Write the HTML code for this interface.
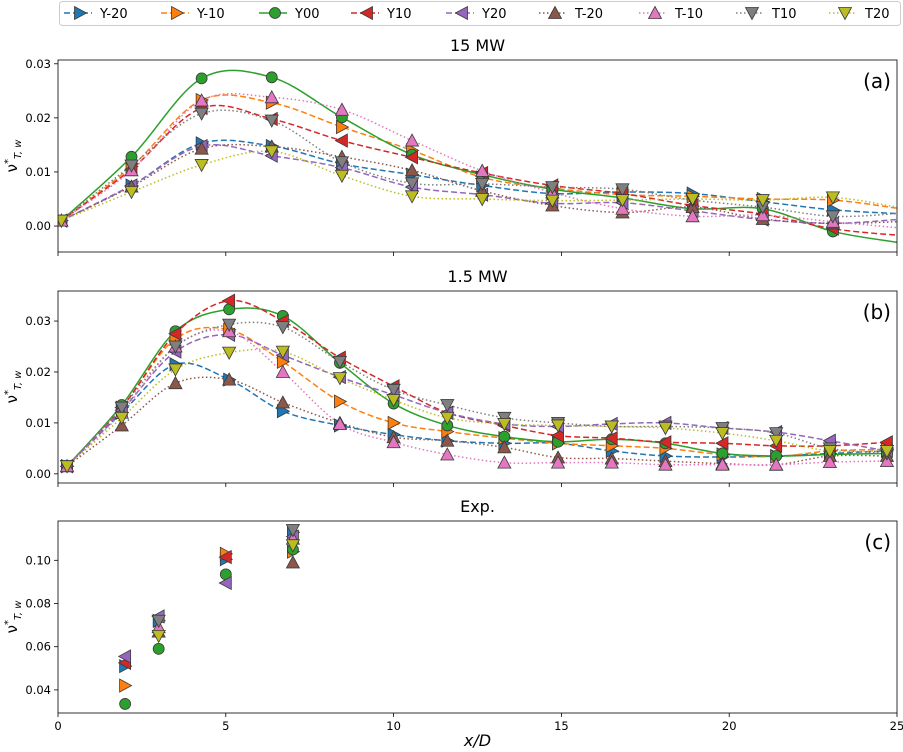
<!DOCTYPE html>
<html><head><meta charset="utf-8"><style>
body{margin:0;background:#fff;}
svg{display:block;font-family:"DejaVu Sans","Liberation Sans",sans-serif;}
</style></head><body>
<svg id="chart" width="903" height="752" viewBox="0 0 903 752"></svg>
<script>
const seriesNames=["Y-20","Y-10","Y00","Y10","Y20","T-20","T-10","T10","T20"];
const colors=["#1f77b4","#ff7f0e","#2ca02c","#d62728","#9467bd","#8c564b","#e377c2","#7f7f7f","#bcbd22"];
const markers=["right","right","circle","left","left","up","up","down","down"];
const dashes=["6,3","6,3","","6,3","6,3","1.5,2.5","1.5,2.5","1.5,2.5","1.5,2.5"];
const xA=[0.1,2.19,4.28,6.37,8.46,10.55,12.64,14.73,16.82,18.91,21.0,23.09];
const endA=[0.0023,0.0033,-0.003,-0.0017,0.0012,0.0008,-0.0003,0.0023,0.0035];
const valsA=[
[0.001,0.0075,0.0153,0.0148,0.0115,0.0095,0.0075,0.006,0.0063,0.006,0.0045,0.003],
[0.001,0.011,0.0233,0.0228,0.0183,0.014,0.009,0.007,0.0058,0.0055,0.005,0.0048],
[0.001,0.0128,0.0273,0.0275,0.0201,0.0132,0.0095,0.0068,0.0052,0.0032,0.0032,-0.001],
[0.001,0.0105,0.0218,0.0198,0.0158,0.0127,0.0098,0.0075,0.006,0.0038,0.0022,-0.0005],
[0.001,0.0075,0.0148,0.013,0.0108,0.0072,0.0058,0.0042,0.0043,0.0028,0.0012,0.0005],
[0.001,0.0073,0.0143,0.0147,0.0128,0.0103,0.0065,0.0038,0.0025,0.0035,0.0013,0.0005],
[0.001,0.0103,0.0232,0.0238,0.0215,0.0158,0.0102,0.0062,0.0032,0.0018,0.002,0.0008],
[0.001,0.0112,0.0208,0.0195,0.0118,0.0079,0.0078,0.0072,0.0068,0.0048,0.0035,0.0018],
[0.001,0.0063,0.0113,0.0138,0.0093,0.0055,0.005,0.0047,0.0048,0.005,0.0048,0.0053]];
const xB=[0.27,1.9,3.5,5.1,6.7,8.4,10.0,11.6,13.3,14.9,16.5,18.1,19.8,21.4,23.0,24.7];
const valsB=[
[0.0015,0.012,0.0215,0.0185,0.0123,0.0095,0.0077,0.0065,0.006,0.006,0.0045,0.0035,0.0033,0.0035,0.004,0.0045],
[0.0015,0.013,0.0265,0.0283,0.022,0.0142,0.01,0.0083,0.007,0.006,0.0055,0.005,0.0038,0.0034,0.0045,0.0048],
[0.0015,0.0135,0.028,0.0323,0.031,0.0218,0.0138,0.0095,0.0073,0.0063,0.0068,0.006,0.004,0.0035,0.0038,0.004],
[0.0015,0.013,0.0275,0.034,0.030,0.0228,0.0172,0.012,0.0095,0.0075,0.007,0.0062,0.006,0.0055,0.0055,0.0062],
[0.0015,0.0125,0.024,0.0273,0.0233,0.019,0.0155,0.012,0.0098,0.0093,0.0098,0.01,0.009,0.0082,0.0065,0.0045],
[0.0015,0.0095,0.0178,0.0185,0.014,0.01,0.0072,0.0065,0.0052,0.0032,0.003,0.0025,0.002,0.0018,0.0035,0.0035],
[0.0015,0.012,0.025,0.028,0.02,0.0098,0.0062,0.0038,0.0022,0.0022,0.0022,0.0018,0.0018,0.0018,0.0023,0.0025],
[0.0015,0.013,0.025,0.0293,0.0288,0.022,0.0165,0.0135,0.011,0.01,0.0093,0.0093,0.009,0.008,0.005,0.004],
[0.0015,0.011,0.0205,0.0238,0.024,0.0188,0.0145,0.011,0.0098,0.0095,0.0093,0.009,0.008,0.0065,0.0045,0.0045]];
const xC=[2,3,5,7];
const valsC=[
[0.051,0.072,0.1005,0.113],
[0.042,null,0.103,0.104],
[0.0335,0.059,0.0935,0.105],
[0.0525,null,0.1015,null],
[0.0555,0.074,0.0895,0.111],
[null,0.067,null,0.099],
[null,0.069,null,0.11],
[null,0.072,null,0.114],
[null,0.065,null,0.107]];
const ticksA=[0,0.01,0.02,0.03], ticksB=[0,0.01,0.02,0.03], ticksC=[0.04,0.06,0.08,0.10];
const xTicks=[0,5,10,15,20,25];

const NS="http://www.w3.org/2000/svg";
const svg=document.getElementById('chart');
function mk(tag,attrs,parent){const e=document.createElementNS(NS,tag);for(const k in attrs)e.setAttribute(k,attrs[k]);(parent||svg).appendChild(e);return e;}
const X0=58,X1=897;
const sx=v=>X0+(v/25)*(X1-X0);
function markerShape(type,cx,cy,col,parent){
  const r=5.5;let e;
  if(type==="circle"){e=mk('circle',{cx:cx,cy:cy,r:r,fill:col,stroke:'#3a3a3a','stroke-width':0.8},parent);}
  else{let p;
    if(type==="right")p=[[cx+r+1,cy],[cx-r,cy-r-1],[cx-r,cy+r+1]];
    if(type==="left")p=[[cx-r-1,cy],[cx+r,cy-r-1],[cx+r,cy+r+1]];
    if(type==="up")p=[[cx,cy-r-1],[cx-r-1,cy+r],[cx+r+1,cy+r]];
    if(type==="down")p=[[cx,cy+r+1],[cx-r-1,cy-r],[cx+r+1,cy-r]];
    e=mk('polygon',{points:p.map(q=>q.join(',')).join(' '),fill:col,stroke:'#3a3a3a','stroke-width':0.8},parent);}
  return e;}
function smooth(pts){
  let d="M"+pts[0][0]+","+pts[0][1];
  for(let i=0;i<pts.length-1;i++){
    const p0=pts[Math.max(0,i-1)],p1=pts[i],p2=pts[i+1],p3=pts[Math.min(pts.length-1,i+2)];
    const c1=[p1[0]+(p2[0]-p0[0])/6,p1[1]+(p2[1]-p0[1])/6];
    const c2=[p2[0]-(p3[0]-p1[0])/6,p2[1]-(p3[1]-p1[1])/6];
    d+=" C"+c1.join(',')+" "+c2.join(',')+" "+p2.join(',');}
  return d;}
function panel(name,top,bot,ymin,ymax,ticks,title,label,showX){
  const g=mk('g',{});
  
  
  const sy=v=>bot-(v-ymin)/(ymax-ymin)*(bot-top);
  const t=mk('text',{x:(X0+X1)/2,y:top-9,'text-anchor':'middle','font-size':16},g);t.textContent=title;
  
  
  ticks.forEach(v=>{const y=sy(v);mk('line',{x1:X0-4,x2:X0,y1:y,y2:y,stroke:'#000','stroke-width':0.8},g);
    const tt=mk('text',{x:X0-7,y:y+4,'text-anchor':'end','font-size':11.5},g);tt.textContent=v.toFixed(v===0.1?2:2);
    
    });
  xTicks.forEach(v=>{const x=sx(v);mk('line',{x1:x,x2:x,y1:bot,y2:bot+4,stroke:'#000','stroke-width':0.8},g);
    if(showX){const tt=mk('text',{x:x,y:bot+17,'text-anchor':'middle','font-size':11.5},g);tt.textContent=v;
      
      }});
  const yl=mk('text',{transform:`translate(17,${(top+bot)/2}) rotate(-90)`,'text-anchor':'middle','font-size':15},g);
  yl.innerHTML='ν<tspan font-size="10" dy="-6">*</tspan><tspan font-size="10" dy="10" font-style="italic">T, w</tspan>';
  
  
  const pl=mk('text',{x:X1-6,y:top+28,'text-anchor':'end','font-size':20},g);pl.textContent=label;
  
  
  const cid='clip'+name;const cp=mk('clipPath',{id:cid},g);mk('rect',{x:X0,y:top,width:X1-X0,height:bot-top},cp);
  const plot=mk('g',{'clip-path':`url(#${cid})`},g);
  mk('rect',{x:X0,y:top,width:X1-X0,height:bot-top,fill:'none',stroke:'#000','stroke-width':0.8},g);
  return {g,plot,sy};}
function linePanel(p,xs,vals,ends,nm){
  vals.forEach((arr,i)=>{
    const pts=arr.map((v,j)=>[sx(xs[j]),p.sy(v)]);
    if(ends)pts.push([sx(25),p.sy(ends[i])]);
    const path=mk('path',{d:smooth(pts),fill:'none',stroke:colors[i],'stroke-width':1.5,'stroke-dasharray':dashes[i]||'none'},p.plot);
    
    });
  vals.forEach((arr,i)=>{arr.forEach((v,j)=>{
    const m=markerShape(markers[i],sx(xs[j]),p.sy(v),colors[i],p.plot);
    
    });});}
const pa=panel('panel-a',60,252,-0.0048,0.0307,ticksA,'15 MW','(a)',false);
linePanel(pa,xA,valsA,endA,'a');
const pb=panel('panel-b',291,483,-0.0018,0.0359,ticksB,'1.5 MW','(b)',false);
linePanel(pb,xB,valsB,null,'b');
const pc=panel('panel-c',521,713,0.0293,0.1182,ticksC,'Exp.','(c)',true);
valsC.forEach((arr,i)=>{arr.forEach((v,j)=>{if(v===null)return;
  const m=markerShape(markers[i],sx(xC[j]),pc.sy(v),colors[i],pc.plot);
  
  });});
const xl=mk('text',{x:(X0+X1)/2,y:746,'text-anchor':'middle','font-size':16,'font-style':'italic'});
xl.textContent='x/D';


// legend
const lg=mk('g',{});


mk('rect',{x:59.5,y:1.5,width:841,height:24,rx:3,fill:'#fff',stroke:'#ccc','stroke-width':1},lg);
const textX=[104,201,299,391,486,579,679,776,869];
seriesNames.forEach((n,i)=>{
  const e=mk('g',{},lg);
  
  
  const tx=textX[i];
  mk('line',{x1:tx-40,x2:tx-12,y1:13,y2:13,stroke:colors[i],'stroke-width':1.5,'stroke-dasharray':dashes[i]||'none'},e);
  markerShape(markers[i],tx-24,13,colors[i],e);
  const t=mk('text',{x:tx-4,y:18,'font-size':13},e);t.textContent=n;});
</script>
</body></html>
